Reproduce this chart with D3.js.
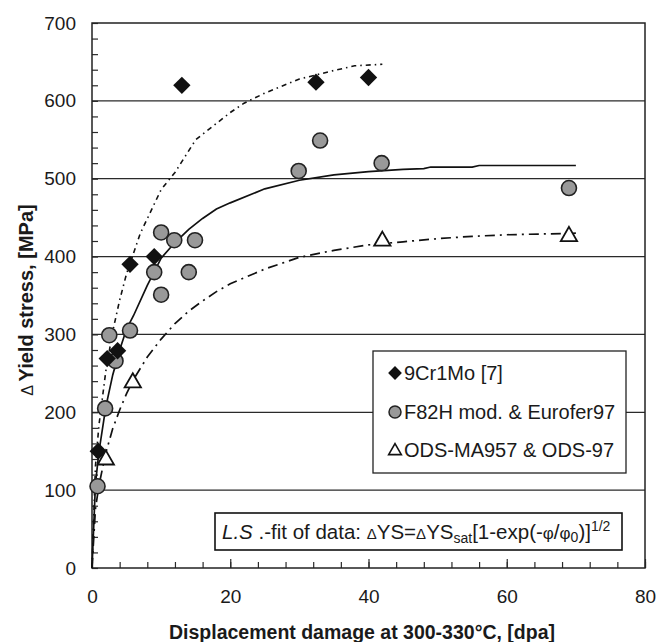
<!DOCTYPE html>
<html>
<head>
<meta charset="utf-8">
<script src="https://cdn.jsdelivr.net/npm/d3@7"></script>
<style>
	body { margin: 0; background: #fff; }
	svg text { font-family: "Liberation Sans", Arial, sans-serif; fill: #1a1a1a; }
</style>
</head>
<body>
<div id="chart"></div>
<script>
var crMoDose = [0.9, 2.2, 3.7, 5.5, 9, 13, 32.4, 40];
var crMoStress = [150, 269, 279, 390, 400, 620, 624, 630];

var f82hDose = [0.8, 1.9, 2.5, 3.4, 5.5, 9, 10, 10, 11.9, 14, 14.9, 29.9, 33, 41.9, 69];
var f82hStress = [105, 205, 299, 266, 305, 380, 351, 431, 421, 380, 421, 510, 549, 520, 488];

var odsDose = [2, 5.9, 42, 69];
var odsStress = [139, 238, 420, 426];

// least-squares fit curves as drawn in the figure
var crMoFitDose = [0, 0.5, 1, 2, 3, 4, 5, 7, 10, 12, 15, 20, 22, 25, 30, 35, 38, 42];
var crMoFitStress = [0, 131, 183, 253, 304, 344, 378, 430, 486, 508, 550, 585, 597, 610, 628, 639, 645, 647];

var f82hFitDose = [0, 0.5, 1, 2, 3, 4, 5, 6, 8, 10, 12, 14, 16, 18, 20, 25, 30, 35, 40, 45, 48, 49, 55, 56, 60, 65, 70];
var f82hFitStress = [0, 108, 149, 207, 248, 280, 307, 324, 363, 398, 418, 435, 449, 461, 469, 487, 498, 505, 509, 512, 513, 515, 515, 517, 517, 517, 517];

var odsFitDose = [0, 0.5, 1, 2, 3, 4, 5, 6, 8, 10, 12, 14, 16, 18, 20, 25, 30, 35, 40, 45, 50, 55, 60, 65, 70];
var odsFitStress = [0, 76, 106, 148, 179, 203, 224, 242, 271, 294, 314, 330, 343, 355, 365, 384, 399, 408, 415, 419, 423, 426, 428, 429, 430];

var xTicks = [0, 20, 40, 60, 80];
var yTicks = [0, 100, 200, 300, 400, 500, 600, 700];
var legendLabels = ["9Cr1Mo [7]", "F82H mod. & Eurofer97", "ODS-MA957 & ODS-97"];

var width = 656, height = 642;
var margin = { left: 92, right: 11, top: 23, bottom: 74 };

var svg = d3.select("#chart").append("svg")
	.attr("width", width)
	.attr("height", height);

var x = d3.scaleLinear().domain([0, 80]).range([margin.left, width - margin.right]);
var y = d3.scaleLinear().domain([0, 700]).range([height - margin.bottom, margin.top]);

function zip(a, b) {
	return a.map(function(v, i) { return [v, b[i]]; });
}

// horizontal grid lines
svg.append("g").attr("class", "grid")
	.selectAll("line").data(yTicks.slice(1, -1)).enter().append("line")
	.attr("x1", x(0)).attr("x2", x(80))
	.attr("y1", function(d) { return y(d); })
	.attr("y2", function(d) { return y(d); })
	.attr("stroke", "#2a2a2a")
	.attr("stroke-width", 1.3);

// minor ticks, pointing inward
var yMinor = d3.range(0, 701, 20);
var xMinor = d3.range(0, 81, 4);

svg.append("g")
	.attr("transform", "translate(" + x(0) + ",0)")
	.call(d3.axisLeft(y).tickValues(yMinor).tickSize(-6).tickFormat(""))
	.call(function(g) { g.select(".domain").remove(); });

svg.append("g")
	.attr("transform", "translate(0," + y(0) + ")")
	.call(d3.axisBottom(x).tickValues(xMinor).tickSize(-6).tickFormat(""))
	.call(function(g) { g.select(".domain").remove(); });

svg.append("g")
	.attr("transform", "translate(0," + y(0) + ")")
	.call(d3.axisBottom(x).tickValues(xTicks).tickSize(-9).tickPadding(22))
	.call(function(g) { g.select(".domain").remove(); })
	.selectAll("text")
	.attr("font-size", 19)
	.attr("font-family", "Liberation Sans, Arial, sans-serif");

svg.append("g")
	.attr("transform", "translate(" + x(0) + ",0)")
	.call(d3.axisLeft(y).tickValues(yTicks).tickSize(0).tickPadding(16))
	.call(function(g) { g.select(".domain").remove(); })
	.selectAll("text")
	.attr("font-size", 19)
	.attr("font-family", "Liberation Sans, Arial, sans-serif");

svg.selectAll(".tick line").attr("stroke", "#2a2a2a").attr("stroke-width", 1.2);

// plot frame
svg.append("rect")
	.attr("x", x(0)).attr("y", y(700))
	.attr("width", x(80) - x(0)).attr("height", y(0) - y(700))
	.attr("fill", "none")
	.attr("stroke", "#222")
	.attr("stroke-width", 1.5);

// fit curves
var line = d3.line()
	.x(function(d) { return x(d[0]); })
	.y(function(d) { return y(d[1]); });

svg.append("path")
	.datum(zip(crMoFitDose, crMoFitStress))
	.attr("d", line)
	.attr("fill", "none")
	.attr("stroke", "#111")
	.attr("stroke-width", 1.6)
	.attr("stroke-dasharray", "5,4,1.5,4");

svg.append("path")
	.datum(zip(f82hFitDose, f82hFitStress))
	.attr("d", line)
	.attr("fill", "none")
	.attr("stroke", "#111")
	.attr("stroke-width", 1.7);

svg.append("path")
	.datum(zip(odsFitDose, odsFitStress))
	.attr("d", line)
	.attr("fill", "none")
	.attr("stroke", "#111")
	.attr("stroke-width", 1.7)
	.attr("stroke-dasharray", "10,5,2,5");

// markers
var diamond = d3.symbol().type(d3.symbolSquare).size(150);
var triangle = d3.symbol().type(d3.symbolTriangle).size(115);

svg.append("g").selectAll("circle").data(zip(f82hDose, f82hStress)).enter().append("circle")
	.attr("cx", function(d) { return x(d[0]); })
	.attr("cy", function(d) { return y(d[1]); })
	.attr("r", 7.5)
	.attr("fill", "#999")
	.attr("stroke", "#222")
	.attr("stroke-width", 1.6);

svg.append("g").selectAll("path").data(zip(crMoDose, crMoStress)).enter().append("path")
	.attr("d", diamond)
	.attr("transform", function(d) { return "translate(" + x(d[0]) + "," + y(d[1]) + ") rotate(45)"; })
	.attr("fill", "#111");

svg.append("g").selectAll("path").data(zip(odsDose, odsStress)).enter().append("path")
	.attr("d", triangle)
	.attr("transform", function(d) { return "translate(" + x(d[0]) + "," + y(d[1]) + ")"; })
	.attr("fill", "#fff")
	.attr("stroke", "#111")
	.attr("stroke-width", 1.8);

// legend
var legend = svg.append("g").attr("transform", "translate(373,351)");
legend.append("rect")
	.attr("width", 253).attr("height", 122)
	.attr("fill", "#fff")
	.attr("stroke", "#222")
	.attr("stroke-width", 1.3);

var rowY = [22, 61, 99];
legend.append("path")
	.attr("d", d3.symbol().type(d3.symbolSquare).size(95))
	.attr("transform", "translate(22," + rowY[0] + ") rotate(45)")
	.attr("fill", "#111");
legend.append("circle")
	.attr("cx", 22).attr("cy", rowY[1]).attr("r", 6)
	.attr("fill", "#999").attr("stroke", "#222").attr("stroke-width", 1.5);
legend.append("path")
	.attr("d", d3.symbol().type(d3.symbolTriangle).size(70))
	.attr("transform", "translate(22," + (rowY[2] + 1) + ")")
	.attr("fill", "#fff").attr("stroke", "#111").attr("stroke-width", 1.6);

legend.selectAll("text.lab").data(legendLabels).enter().append("text")
	.attr("class", "lab")
	.attr("x", 31)
	.attr("y", function(d, i) { return rowY[i] + 7; })
	.attr("font-size", 20)
	.text(function(d) { return d; });

// fit formula box
var fbox = svg.append("g").attr("transform", "translate(215,513)");
fbox.append("rect")
	.attr("width", 407).attr("height", 37)
	.attr("fill", "#fff")
	.attr("stroke", "#111")
	.attr("stroke-width", 1.6);

var ft = fbox.append("text").attr("x", 7).attr("y", 26).attr("font-size", 20.5);
ft.append("tspan").attr("font-style", "italic").text("L.S");
ft.append("tspan").text(" .-fit of data: ");
ft.append("tspan").attr("font-size", 15).text("\u0394");
ft.append("tspan").text("YS=");
ft.append("tspan").attr("font-size", 15).text("\u0394");
ft.append("tspan").text("YS");
ft.append("tspan").attr("font-size", 14).attr("dy", 4).text("sat");
ft.append("tspan").attr("dy", -4).text("[1-exp(-");
ft.append("tspan").attr("font-size", 17).text("\u03c6");
ft.append("tspan").text("/");
ft.append("tspan").attr("font-size", 17).text("\u03c6");
ft.append("tspan").attr("font-size", 14).attr("dy", 3).text("0");
ft.append("tspan").attr("dy", -3).text(")]");
ft.append("tspan").attr("font-size", 14).attr("dy", -8).text("1/2");

// axis titles
var yt = svg.append("text")
	.attr("transform", "translate(33,300) rotate(-90)")
	.attr("text-anchor", "middle")
	.attr("font-size", 20);
yt.append("tspan").attr("font-size", 16).text("\u0394 ");
yt.append("tspan").attr("font-weight", "bold").text("Yield stress, [MPa]");

svg.append("text")
	.attr("x", 362)
	.attr("y", 639)
	.attr("text-anchor", "middle")
	.attr("font-size", 19.5)
	.attr("font-weight", "bold")
	.text("Displacement damage at 300-330\u00b0C, [dpa]");
</script>
</body>
</html>
